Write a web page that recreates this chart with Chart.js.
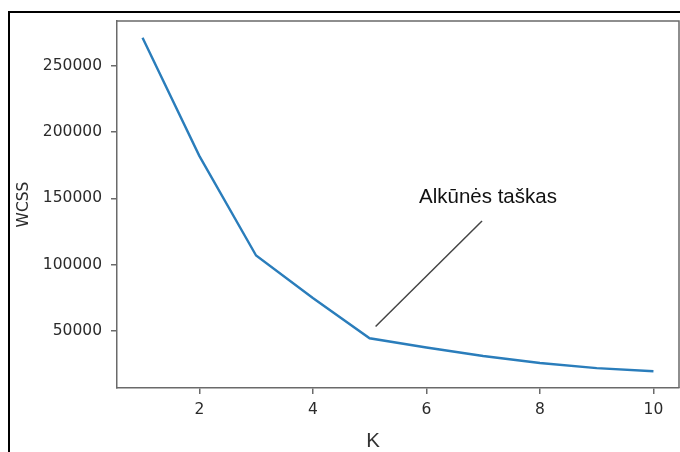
<!DOCTYPE html>
<html><head><meta charset="utf-8">
<script src="https://cdn.jsdelivr.net/npm/chart.js@4.4.1/dist/chart.umd.min.js"></script>
<style>html,body{margin:0;padding:0;background:#fff;}canvas{display:block;}</style>
</head><body>
<canvas id="c" width="680" height="452"></canvas>
<script>
// ---- data ----
const kValues = [1, 2, 3, 4, 5, 6, 7, 8, 9, 10];
const wcssValues = [271000, 182000, 107000, 75000, 44700, 37700, 31300, 26100, 22200, 19800];
const xTicks = [2, 4, 6, 8, 10];
const yTicks = [50000, 100000, 150000, 200000, 250000];
const xTitle = 'K';
const yTitle = 'WCSS';
const annotationText = 'Alkūnės taškas';
const annotationFrom = [5.105, 53500];
const annotationTo = [6.98, 133000];
const annotationLabelAt = [7.085, 146500];

// matplotlib-style 5% auto margins
const xr = Math.max(...kValues) - Math.min(...kValues);
const xMin = Math.min(...kValues) - 0.05 * xr, xMax = Math.max(...kValues) + 0.05 * xr;
const yr = Math.max(...wcssValues) - Math.min(...wcssValues);
const yMin = Math.min(...wcssValues) - 0.05 * yr, yMax = Math.max(...wcssValues) + 0.05 * yr;

const axisColor = '#6a6a6a';
const textColor = '#2b2b2b';
const tickFont = { family: "'DejaVu Sans', sans-serif", size: 15.5 };
const labelFont = "20.5px 'Liberation Sans', Arial, sans-serif";

const extras = {
  id: 'extras',
  afterDraw(chart) {
    const { ctx, chartArea: a, scales } = chart;
    ctx.save();
    // top & right spines
    ctx.strokeStyle = axisColor; ctx.lineWidth = 1.5;
    ctx.beginPath();
    ctx.moveTo(a.left, a.top); ctx.lineTo(a.right, a.top); ctx.lineTo(a.right, a.bottom);
    ctx.stroke();
    // outer frame
    ctx.strokeStyle = '#000'; ctx.lineWidth = 2;
    ctx.strokeRect(9, 12, 700, 500);
    // annotation line
    const xs = scales.x, ys = scales.y;
    ctx.strokeStyle = '#444'; ctx.lineWidth = 1.5;
    ctx.beginPath();
    ctx.moveTo(xs.getPixelForValue(annotationFrom[0]), ys.getPixelForValue(annotationFrom[1]));
    ctx.lineTo(xs.getPixelForValue(annotationTo[0]), ys.getPixelForValue(annotationTo[1]));
    ctx.stroke();
    // annotation text
    ctx.fillStyle = '#111'; ctx.font = labelFont;
    ctx.textAlign = 'center'; ctx.textBaseline = 'alphabetic';
    ctx.fillText(annotationText, xs.getPixelForValue(annotationLabelAt[0]), ys.getPixelForValue(annotationLabelAt[1]));
    // x axis title
    ctx.fillStyle = '#333';
    ctx.textBaseline = 'middle';
    ctx.fillText(xTitle, 373, 441);
    ctx.restore();
  }
};

new Chart(document.getElementById('c').getContext('2d'), {
  type: 'line',
  data: {
    datasets: [{
      data: kValues.map((k, i) => ({ x: k, y: wcssValues[i] })),
      borderColor: '#2a7dbb', borderWidth: 2.4, pointRadius: 0, fill: false, tension: 0
    }]
  },
  options: {
    responsive: false, animation: false, devicePixelRatio: 1,
    layout: { padding: { top: 21, right: 1, left: 0, bottom: 0 } },
    plugins: { legend: { display: false }, tooltip: { enabled: false } },
    scales: {
      x: {
        type: 'linear', min: xMin, max: xMax,
        afterBuildTicks: s => { s.ticks = xTicks.map(v => ({ value: v })); },
        afterFit: s => { s.height = 64; },
        grid: { drawOnChartArea: false, drawTicks: true, tickLength: 6, color: axisColor, lineWidth: 1.5 },
        border: { color: axisColor, width: 1.5 },
        ticks: { font: tickFont, color: textColor, padding: 7, maxRotation: 0, autoSkip: false }
      },
      y: {
        type: 'linear', min: yMin, max: yMax,
        afterBuildTicks: s => { s.ticks = yTicks.map(v => ({ value: v })); },
        afterFit: s => { s.width = 117; },
        grid: { drawOnChartArea: false, drawTicks: true, tickLength: 6, color: axisColor, lineWidth: 1.5 },
        border: { color: axisColor, width: 1.5 },
        ticks: { font: tickFont, color: textColor, padding: 9, autoSkip: false, callback: v => String(v) },
        title: { display: true, text: yTitle, font: tickFont, color: textColor, padding: { top: 15, bottom: 0 } }
      }
    }
  },
  plugins: [extras]
});
</script>
</body></html>
